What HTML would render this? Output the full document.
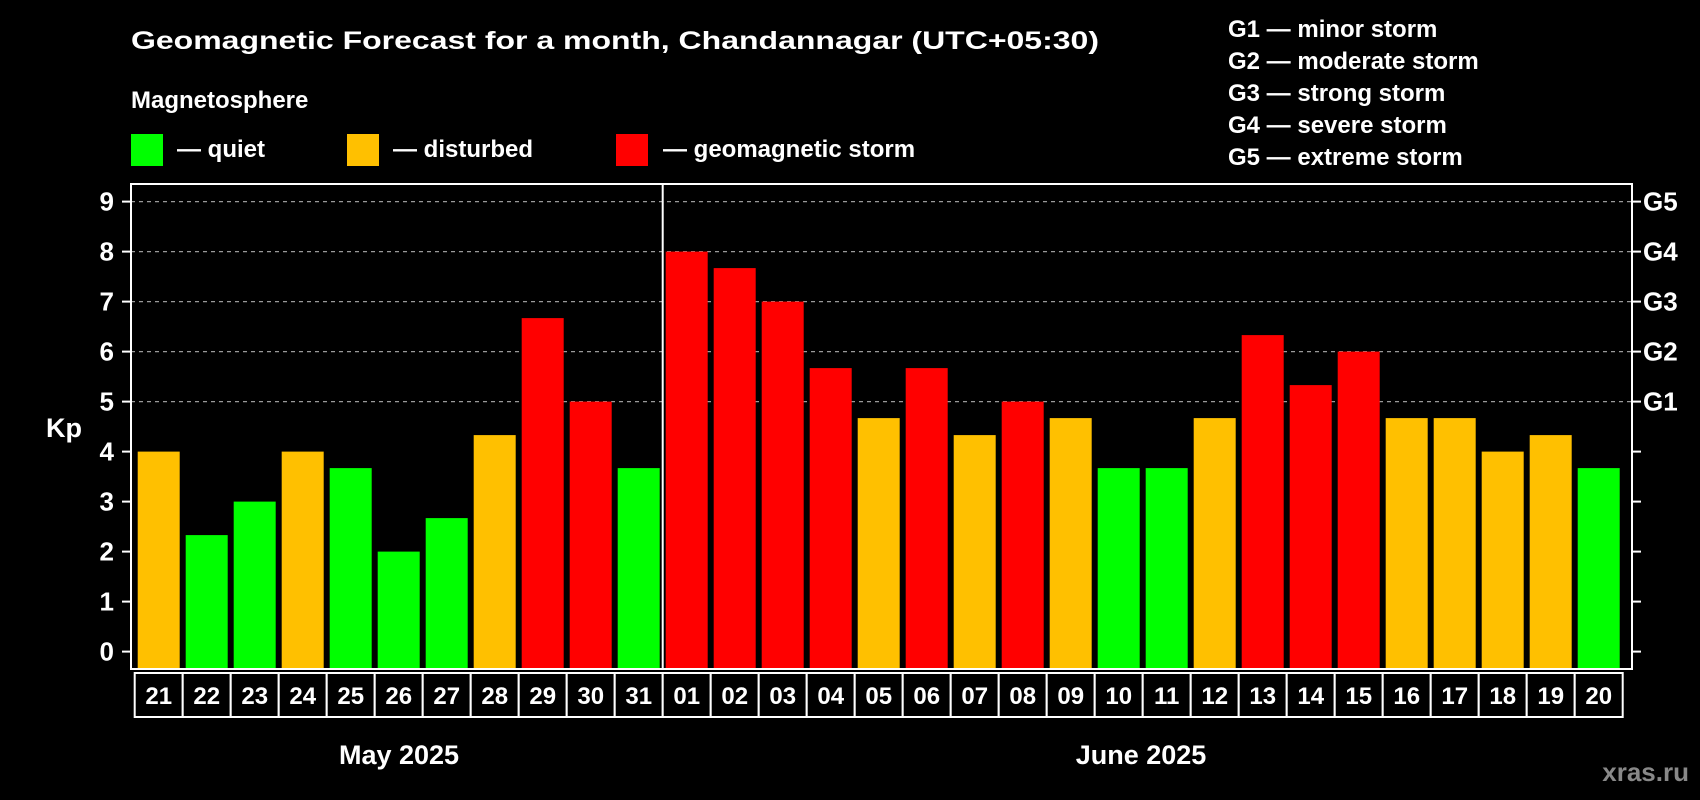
<!DOCTYPE html>
<html><head><meta charset="utf-8"><style>
html,body{margin:0;padding:0;background:#000;}
svg{display:block;font-family:"Liberation Sans",Arial,sans-serif;font-weight:bold;}
</style></head><body>
<svg id="chart" width="1700" height="800" viewBox="0 0 1700 800" xmlns="http://www.w3.org/2000/svg">
<rect width="1700" height="800" fill="#000"/>
<text x="131" y="49" fill="#fff" font-size="25" textLength="968" lengthAdjust="spacingAndGlyphs">Geomagnetic Forecast for a month, Chandannagar (UTC+05:30)</text>
<text x="131" y="108" fill="#fff" font-size="24">Magnetosphere</text>
<g><rect x="131" y="134" width="32" height="32" fill="#00ff00"/><text x="177" y="157" fill="#fff" font-size="24">— quiet</text></g>
<g><rect x="347" y="134" width="32" height="32" fill="#ffc000"/><text x="393" y="157" fill="#fff" font-size="24">— disturbed</text></g>
<g><rect x="616" y="134" width="32" height="32" fill="#ff0000"/><text x="663" y="157" fill="#fff" font-size="24">— geomagnetic storm</text></g>
<g fill="#fff" font-size="24">
<text x="1228" y="37">G1 — minor storm</text>
<text x="1228" y="69">G2 — moderate storm</text>
<text x="1228" y="101">G3 — strong storm</text>
<text x="1228" y="133">G4 — severe storm</text>
<text x="1228" y="165">G5 — extreme storm</text>
</g>
<text x="64" y="437" fill="#fff" font-size="27" text-anchor="middle">Kp</text>
<text x="399" y="764" fill="#fff" font-size="27" text-anchor="middle">May 2025</text>
<text x="1141" y="764" fill="#fff" font-size="27" text-anchor="middle">June 2025</text>
<text x="1689" y="781" fill="#888" font-size="26" text-anchor="end">xras.ru</text>
<g id="grid"></g><g id="bars"></g><g id="axes"></g>
</svg>
<script>
const days = ["21","22","23","24","25","26","27","28","29","30","31","01","02","03","04","05","06","07","08","09","10","11","12","13","14","15","16","17","18","19","20"];
const kpValues = [4,2.33,3,4,3.67,2,2.67,4.33,6.67,5,3.67,8,7.67,7,5.67,4.67,5.67,4.33,5,4.67,3.67,3.67,4.67,6.33,5.33,6,4.67,4.67,4,4.33,3.67];
const yTicks = [0,1,2,3,4,5,6,7,8,9];
const gLabels = ["G1","G2","G3","G4","G5"];
const gLevels = [5,6,7,8,9];
const monthSplit = 11;

const NS="http://www.w3.org/2000/svg";
const plotL=131, plotR=1632, plotT=184, plotB=669;
const slot0=134.7, slotW=48;
function y(v){return 651.6-50*v;}
function xs(i){return slot0+slotW*i;}
function mk(tag,attrs,parent){const e=document.createElementNS(NS,tag);for(const k in attrs)e.setAttribute(k,attrs[k]);parent.appendChild(e);return e;}
const grid=document.getElementById('grid'),bars=document.getElementById('bars'),axes=document.getElementById('axes');

gLevels.forEach(v=>{
  const l=mk('line',{x1:plotL,x2:plotR,y1:y(v),y2:y(v),stroke:'#999','stroke-width':1.2,'stroke-dasharray':'4,4'},grid);
  
  
});
kpValues.forEach((v,i)=>{
  const c=v>=5?'#ff0000':(v>=4?'#ffc000':'#00ff00');
  const r=mk('rect',{x:xs(i)+3,width:42,y:y(v),height:plotB-y(v),fill:c},bars);
  
  
});
const fr=mk('rect',{x:plotL,y:plotT,width:plotR-plotL,height:plotB-plotT,fill:'none',stroke:'#fff','stroke-width':2},axes);


const dv=mk('line',{x1:xs(monthSplit),x2:xs(monthSplit),y1:plotT,y2:plotB,stroke:'#fff','stroke-width':2},axes);


yTicks.forEach(v=>{
  mk('line',{x1:plotL-9,x2:plotL,y1:y(v),y2:y(v),stroke:'#fff','stroke-width':2},axes);
  mk('line',{x1:plotR,x2:plotR+9,y1:y(v),y2:y(v),stroke:'#fff','stroke-width':2},axes);
  const t=mk('text',{x:114,y:y(v)+9,fill:'#fff','font-size':26,'text-anchor':'end'},axes);
  t.textContent=v;
  
  
});
gLevels.forEach((v,i)=>{
  const t=mk('text',{x:1643,y:y(v)+9,fill:'#fff','font-size':26},axes);
  t.textContent=gLabels[i];
  
  
});
days.forEach((d,i)=>{
  const c=mk('rect',{x:xs(i),y:673,width:slotW,height:44,fill:'#000',stroke:'#fff','stroke-width':2},axes);
  
  
  const t=mk('text',{x:xs(i)+slotW/2,y:704,fill:'#fff','font-size':24,'text-anchor':'middle'},axes);
  t.textContent=d;
  
  
});
</script>
</body></html>
